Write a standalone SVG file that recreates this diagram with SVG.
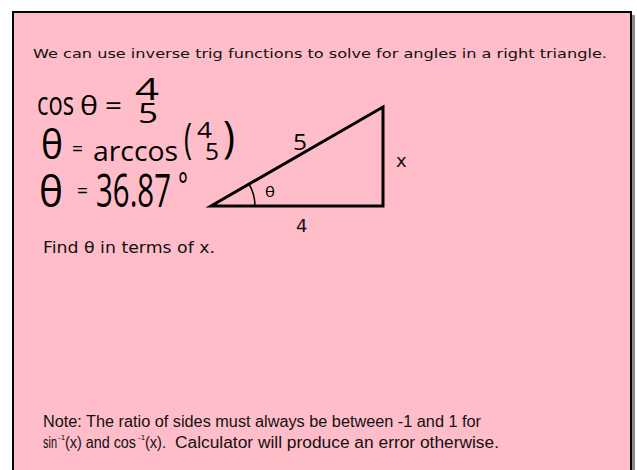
<svg xmlns="http://www.w3.org/2000/svg" width="637" height="470" viewBox="0 0 637 470">
<style>
.t{font-family:"DejaVu Sans",Verdana,sans-serif;fill:#111}
.n{font-family:"Liberation Sans",Arial,sans-serif;fill:#111}
.h{font-family:"Open Sans","DejaVu Sans",sans-serif;font-weight:400;fill:#000}
.tri{fill:none;stroke:#000;stroke-width:3;stroke-linejoin:miter}
</style>
<rect width="637" height="470" fill="#fff"/>
<rect x="632" y="15" width="3" height="460" fill="#8a8a8a"/>
<rect x="13" y="12" width="618" height="470" fill="#FFBDCA" stroke="#000" stroke-width="2"/>
<g id="intro">
<text class="t" x="33" y="58" font-size="13" textLength="574" lengthAdjust="spacingAndGlyphs">We can use inverse trig functions to solve for angles in a right triangle.</text>
</g>
<g id="work">
<text class="h"><tspan x="37" y="115" font-size="32" textLength="37" lengthAdjust="spacingAndGlyphs">cos</tspan><tspan x="80" y="115" font-size="25" textLength="18" lengthAdjust="spacingAndGlyphs">θ</tspan><tspan x="105" y="115" font-size="26" textLength="17" lengthAdjust="spacingAndGlyphs">=</tspan><tspan x="135" y="100" font-size="31" textLength="24" lengthAdjust="spacingAndGlyphs">4</tspan><tspan x="138" y="123" font-size="28" textLength="20" lengthAdjust="spacingAndGlyphs">5</tspan></text>
<text class="h"><tspan x="41" y="159" font-size="40" textLength="22" lengthAdjust="spacingAndGlyphs">θ</tspan><tspan x="72" y="156" font-size="22" textLength="11" lengthAdjust="spacingAndGlyphs">=</tspan><tspan x="93" y="161" font-size="28" textLength="85" lengthAdjust="spacingAndGlyphs">arccos</tspan><tspan x="184" y="153" font-size="42" textLength="8" lengthAdjust="spacingAndGlyphs">(</tspan><tspan x="197" y="138" font-size="21" textLength="15" lengthAdjust="spacingAndGlyphs">4</tspan><tspan x="205" y="160" font-size="24" textLength="14" lengthAdjust="spacingAndGlyphs">5</tspan><tspan x="223" y="152" font-size="44" textLength="12" lengthAdjust="spacingAndGlyphs">)</tspan></text>
<text class="h"><tspan x="39" y="207" font-size="43" textLength="24" lengthAdjust="spacingAndGlyphs">θ</tspan><tspan x="77" y="198" font-size="22" textLength="11" lengthAdjust="spacingAndGlyphs">=</tspan><tspan x="96" y="207" font-size="45" textLength="75" lengthAdjust="spacingAndGlyphs">36.87</tspan><tspan x="178" y="198" font-size="34" textLength="10" lengthAdjust="spacingAndGlyphs">°</tspan></text>
</g>
<g id="triangle">
<polygon class="tri" points="211,206 383,107 383,206"/>
<path d="M255,206 A44,44 0 0 0 249,184" fill="none" stroke="#000" stroke-width="1.5"/>
<text class="h" x="265" y="197" font-size="15" font-weight="300" textLength="10" lengthAdjust="spacingAndGlyphs">θ</text>
<text class="h" x="293" y="150" font-size="21" textLength="14" lengthAdjust="spacingAndGlyphs">5</text>
<text class="t" x="396" y="167" font-size="18">x</text>
<text class="t" x="296" y="232" font-size="18">4</text>
</g>
<g id="question">
<text class="t" x="43" y="253" font-size="16" textLength="172" lengthAdjust="spacingAndGlyphs">Find θ in terms of x.</text>
</g>
<g id="note">
<text class="n" x="43" y="427" font-size="16" textLength="438" lengthAdjust="spacingAndGlyphs">Note: The ratio of sides must always be between -1 and 1 for</text>
<text class="n" font-size="16"><tspan x="43" y="448" textLength="14" lengthAdjust="spacingAndGlyphs">sin</tspan><tspan x="58" y="440" font-size="8">-1</tspan><tspan x="65" y="448" textLength="71" lengthAdjust="spacingAndGlyphs">(x) and cos</tspan><tspan x="138" y="440" font-size="8">-1</tspan><tspan x="145" y="448" textLength="21" lengthAdjust="spacingAndGlyphs">(x).</tspan><tspan x="175" y="448" textLength="324" lengthAdjust="spacingAndGlyphs">Calculator will produce an error otherwise.</tspan></text>
</g>
</svg>
